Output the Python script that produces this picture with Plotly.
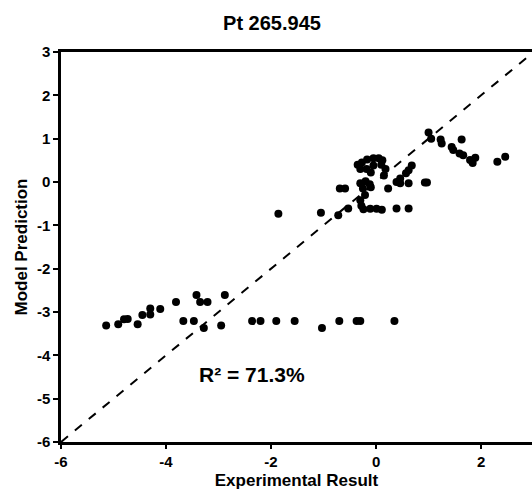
import plotly.graph_objects as go

# Experimental result (x) and model prediction (y)
exp_low = [-5.14, -4.91, -4.80, -4.73, -4.54, -4.45, -4.30, -4.30, -4.11, -3.81, -3.67, -3.47,
           -3.42, -3.35, -3.21, -3.28, -2.95, -2.88, -2.36, -2.20, -1.90, -1.55, -1.03, -0.70,
           -0.37, -0.30, 0.35]
pred_low = [-3.31, -3.28, -3.17, -3.16, -3.28, -3.07, -3.06, -2.92, -2.93, -2.77, -3.21, -3.21,
            -2.61, -2.77, -2.77, -3.37, -3.31, -2.61, -3.21, -3.21, -3.21, -3.21, -3.37, -3.21,
            -3.21, -3.21, -3.21]

exp_high = [-1.86, -1.05, -0.72, -0.53, -0.69, -0.59,
            -0.35, -0.27, -0.17, -0.05, 0.05, 0.12, -0.30, -0.18, -0.05, 0.10, 0.18, 0.15, -0.10,
            -0.30, -0.20, -0.12, -0.25, -0.10, 0.23, -0.30, -0.21, -0.28,
            -0.24, -0.11, 0.01, 0.11, 0.39, 0.62,
            0.39, 0.46, 0.62, 0.46, 0.57, 0.62, 0.68, 0.93, 0.97,
            1.00, 1.05, 1.23, 1.25, 1.44, 1.47, 1.63, 1.59, 1.66, 1.79, 1.89, 1.84, 2.31, 2.46]
pred_high = [-0.73, -0.71, -0.77, -0.61, -0.15, -0.15,
             0.40, 0.45, 0.52, 0.55, 0.55, 0.50, 0.30, 0.30, 0.38, 0.40, 0.30, 0.15, 0.22,
             -0.03, 0.02, -0.05, -0.15, -0.12, -0.15, -0.42, -0.30, -0.55,
             -0.63, -0.62, -0.62, -0.64, -0.61, -0.61,
             0.00, -0.03, -0.03, 0.08, 0.20, 0.27, 0.38, -0.01, -0.01,
             1.14, 1.00, 0.98, 0.89, 0.81, 0.74, 0.98, 0.66, 0.62, 0.51, 0.56, 0.44, 0.47, 0.58]

exp_x = exp_low + exp_high
pred_y = pred_low + pred_high

line_x = [-6, 3]
line_y = [-6, 3]

x_ticks = [-6, -4, -2, 0, 2]
y_ticks = [3, 2, 1, 0, -1, -2, -3, -4, -5, -6]

FONT = "Arial, 'Liberation Sans', sans-serif"

fig = go.Figure()
fig.add_trace(go.Scatter(x=line_x, y=line_y, mode="lines",
                         line=dict(color="black", width=2, dash="dash"),
                         showlegend=False, hoverinfo="skip", cliponaxis=True))
fig.add_trace(go.Scatter(x=exp_x, y=pred_y, mode="markers",
                         marker=dict(color="black", size=8, line=dict(width=0)),
                         showlegend=False))

fig.add_annotation(x=-2.36, y=-4.45, xref="x", yref="y", text="<b>R² = 71.3%</b>",
                   showarrow=False, font=dict(family=FONT, size=21, color="black"))

fig.update_layout(
    width=532, height=496,
    margin=dict(l=61, r=0, t=52, b=54),
    paper_bgcolor="white", plot_bgcolor="white",
    title=dict(text="<b>Pt 265.945</b>", x=272 / 532, xanchor="center", y=1 - 23 / 496,
               yanchor="middle", font=dict(family=FONT, size=20, color="black")),
    font=dict(family=FONT, color="black"),
    xaxis=dict(range=[-6, 2.97], tickvals=x_ticks, ticktext=[f"<b>{v}</b>" for v in x_ticks],
               showgrid=False, zeroline=False, showline=True, linecolor="black", linewidth=2.5,
               mirror=True, ticks="outside", ticklen=4, tickwidth=2, tickcolor="black",
               tickfont=dict(family=FONT, size=15, color="black"),
               title=dict(text="<b>Experimental Result</b>", standoff=6,
                          font=dict(family=FONT, size=17, color="black"))),
    yaxis=dict(range=[-6, 3], tickvals=y_ticks, ticktext=[f"<b>{v}</b>" for v in y_ticks],
               showgrid=False, zeroline=False, showline=True, linecolor="black", linewidth=2.5,
               ticks="outside", ticklen=5, tickwidth=2, tickcolor="black",
               tickfont=dict(family=FONT, size=15, color="black"),
               title=dict(text="<b>Model Prediction</b>", standoff=5,
                          font=dict(family=FONT, size=17, color="black"))),
)

fig.write_html("out.html")
